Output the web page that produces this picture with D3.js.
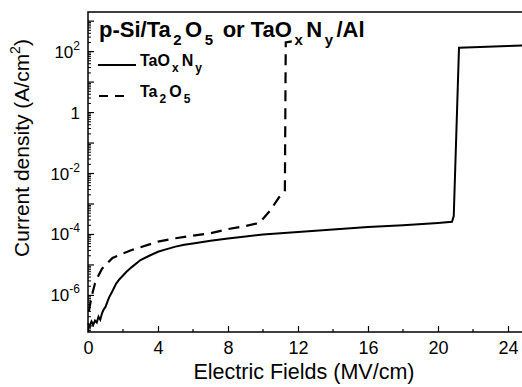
<!DOCTYPE html>
<html>
<head>
<meta charset="utf-8">
<script src="https://cdn.jsdelivr.net/npm/d3@7"></script>
<style>
  body { margin: 0; background: #fff; }
  svg { display: block; font-family: "Liberation Sans", Arial, sans-serif; }
</style>
</head>
<body>
<div id="chart"></div>
<script>
// TaOxNy (solid) - field in MV/cm, current density in A/cm2
const taoxnyField = [0, 0.1, 0.2, 0.3, 0.4, 0.5, 0.6, 0.7, 0.8, 0.9, 1.0, 1.1, 1.2, 1.4, 1.6, 1.8, 2.0, 2.2, 2.5, 3.0, 3.5, 4.0, 4.5, 5.0, 5.5, 6.0, 7.0, 8.0, 9.0, 10, 12, 14, 16, 18, 20, 20.8, 20.9, 21.2, 22, 24, 25];
const taoxnyJ = [1.2e-7, 1.0e-7, 1.4e-7, 1.1e-7, 1.5e-7, 1.3e-7, 2.0e-7, 1.6e-7, 2.6e-7, 3.5e-7, 4.2e-7, 6.0e-7, 8.5e-7, 1.4e-6, 2.4e-6, 3.4e-6, 4.5e-6, 6.0e-6, 8.5e-6, 1.45e-5, 2.0e-5, 2.7e-5, 3.3e-5, 4.0e-5, 4.6e-5, 5.1e-5, 6.2e-5, 7.4e-5, 8.6e-5, 1.0e-4, 1.2e-4, 1.45e-4, 1.75e-4, 2.0e-4, 2.4e-4, 2.6e-4, 4.0e-4, 135, 140, 152, 160];

// Ta2O5 (dashed)
const ta2o5Field = [0.05, 0.2, 0.4, 0.6, 0.8, 1.0, 1.4, 2.0, 2.5, 3.0, 4.0, 5.0, 6.0, 7.0, 8.0, 9.0, 9.8, 10.4, 10.9, 11.25, 11.3, 11.9];
const ta2o5J = [3e-7, 9e-7, 2.5e-6, 4.5e-6, 7.5e-6, 1.0e-5, 1.7e-5, 2.4e-5, 3.1e-5, 3.8e-5, 5.8e-5, 7.5e-5, 9.2e-5, 1.1e-4, 1.5e-4, 1.9e-4, 2.4e-4, 6e-4, 1.6e-3, 2.8e-3, 200, 230];

const xTicks = [0, 4, 8, 12, 16, 20, 24];
const xMinorTicks = [2, 6, 10, 14, 18, 22];
const yLabelExps = [2, 0, -2, -4, -6];

const width = 522, height = 387;
const margin = {top: 12, left: 88, bottom: 332, right: 525.5};

const svg = d3.select("#chart").append("svg")
  .attr("width", width)
  .attr("height", height);

const x = d3.scaleLinear().domain([0, 25]).range([margin.left, margin.right]);
const y = d3.scaleLog().domain([Math.pow(10, -7.2), Math.pow(10, 3.3)]).range([margin.bottom, margin.top]);

// frame
svg.append("rect")
  .attr("x", margin.left).attr("y", margin.top)
  .attr("width", margin.right - margin.left).attr("height", margin.bottom - margin.top)
  .attr("fill", "none").attr("stroke", "#000").attr("stroke-width", 1.5);

// x axis ticks (inside)
const xAxis = d3.axisBottom(x).tickValues(xTicks).tickSize(-6).tickPadding(9).tickFormat(d3.format("d"));
const gx = svg.append("g").attr("transform", `translate(0,${margin.bottom})`).call(xAxis);
gx.select(".domain").remove();
gx.selectAll("line").attr("stroke-width", 1.2);
gx.selectAll("text").attr("font-size", 18).attr("font-family", "Liberation Sans, Arial, sans-serif");
svg.append("g").selectAll("line").data(xMinorTicks).join("line")
  .attr("x1", d => x(d)).attr("x2", d => x(d))
  .attr("y1", margin.bottom).attr("y2", margin.bottom - 3)
  .attr("stroke", "#000").attr("stroke-width", 1.2);

// y axis ticks (inside), major every decade, minor 2..9
const yMajor = d3.range(-7, 4).map(e => Math.pow(10, e));
const yMinor = [];
d3.range(-8, 4).forEach(e => { for (let m = 2; m <= 9; m++) yMinor.push(m * Math.pow(10, e)); });
const [ylo, yhi] = y.domain();
svg.append("g").selectAll("line").data(yMajor.filter(v => v >= ylo && v <= yhi)).join("line")
  .attr("x1", margin.left).attr("x2", margin.left + 6)
  .attr("y1", d => y(d)).attr("y2", d => y(d))
  .attr("stroke", "#000").attr("stroke-width", 1.2);
svg.append("g").selectAll("line").data(yMinor.filter(v => v >= ylo && v <= yhi)).join("line")
  .attr("x1", margin.left).attr("x2", margin.left + 3)
  .attr("y1", d => y(d)).attr("y2", d => y(d))
  .attr("stroke", "#000").attr("stroke-width", 1);

// y tick labels
const yl = svg.append("g").selectAll("text").data(yLabelExps).join("text")
  .attr("x", 80)
  .attr("y", d => y(Math.pow(10, d)) + 6)
  .attr("text-anchor", "end")
  .attr("font-size", 17);
yl.each(function(d) {
  const t = d3.select(this);
  if (d === 0) { t.text("1"); return; }
  t.append("tspan").text("10");
  t.append("tspan").attr("dy", -8).attr("font-size", 12).text(d);
});

// lines
const line = d3.line().x(d => x(d[0])).y(d => y(d[1]));
svg.append("path")
  .datum(taoxnyField.map((f, i) => [f, taoxnyJ[i]]))
  .attr("d", line).attr("fill", "none").attr("stroke", "#000").attr("stroke-width", 2);
svg.append("path")
  .datum(ta2o5Field.map((f, i) => [f, ta2o5J[i]]))
  .attr("d", line).attr("fill", "none").attr("stroke", "#000").attr("stroke-width", 2.2)
  .attr("stroke-dasharray", "11,7");

// sub/superscript helper: parts = [[text, isSub], ...]
function richText(sel, parts, subSize, shift, gap) {
  let down = false;
  parts.forEach(([s, sub]) => {
    const t = sel.append("tspan").text(s);
    if (sub && !down) { t.attr("dy", shift).attr("font-size", subSize).attr("dx", gap); down = true; }
    else if (sub) { t.attr("font-size", subSize); }
    else if (down) { t.attr("dy", -shift).attr("dx", gap + 1); down = false; }
  });
}

// title
const title = svg.append("text").attr("x", 99).attr("y", 37)
  .attr("font-size", 22).attr("font-weight", "bold");
richText(title, [["p-Si/Ta", 0], ["2", 1], ["O", 0], ["5", 1], [" or TaO", 0], ["x", 1], ["N", 0], ["y", 1], ["/Al", 0]], 15, 8, 2.5);

// legend
svg.append("line").attr("x1", 98).attr("x2", 136).attr("y1", 65).attr("y2", 65)
  .attr("stroke", "#000").attr("stroke-width", 2);
svg.append("line").attr("x1", 99).attr("x2", 124).attr("y1", 96).attr("y2", 96)
  .attr("stroke", "#000").attr("stroke-width", 2.2).attr("stroke-dasharray", "9,7");
const lg1 = svg.append("text").attr("x", 140).attr("y", 66).attr("font-size", 16).attr("font-weight", "bold");
richText(lg1, [["TaO", 0], ["x", 1], ["N", 0], ["y", 1]], 12, 6, 2);
const lg2 = svg.append("text").attr("x", 140).attr("y", 97).attr("font-size", 16).attr("font-weight", "bold");
richText(lg2, [["Ta", 0], ["2", 1], ["O", 0], ["5", 1]], 12, 6, 2);

// axis titles
svg.append("text").attr("x", 304).attr("y", 379).attr("text-anchor", "middle")
  .attr("font-size", 21.5).text("Electric Fields (MV/cm)");
const yt = svg.append("text").attr("transform", "translate(29,148) rotate(-90)")
  .attr("text-anchor", "middle").attr("font-size", 21);
yt.append("tspan").text("Current density (A/cm");
yt.append("tspan").attr("dy", -9).attr("font-size", 14).text("2");
yt.append("tspan").attr("dy", 9).text(")");
</script>
</body>
</html>
